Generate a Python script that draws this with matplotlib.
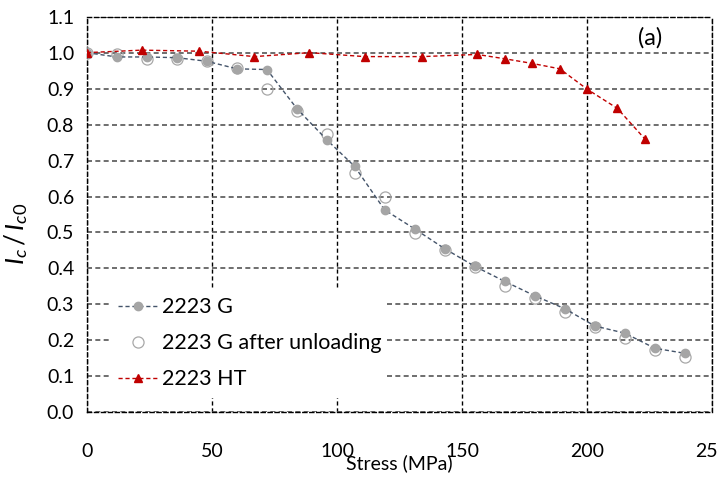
import matplotlib.pyplot as plt

plt.rcParams['font.family'] = ['Lato', 'DejaVu Sans']
plt.rcParams['mathtext.fontset'] = 'custom'
plt.rcParams['mathtext.it'] = 'Lato:italic'
plt.rcParams['mathtext.rm'] = 'Lato'

# 2223 G
g_stress = [0, 12, 24, 36, 48, 60, 72, 84, 96, 107, 119, 131, 143, 155, 167, 179, 191, 203, 215, 227, 239]
g_ic = [1.000, 0.988, 0.988, 0.986, 0.976, 0.955, 0.953, 0.844, 0.757, 0.684, 0.563,
        0.510, 0.455, 0.406, 0.364, 0.324, 0.288, 0.240, 0.220, 0.178, 0.164]
# 2223 G after unloading
u_ic = [1.000, 0.995, 0.983, 0.981, 0.978, 0.958, 0.900, 0.837, 0.774, 0.666, 0.600,
        0.499, 0.452, 0.405, 0.350, 0.317, 0.280, 0.238, 0.206, 0.172, 0.155]
# 2223 HT
ht_stress = [0, 22, 45, 67, 89, 111, 134, 156, 167, 178, 189, 200, 212, 223]
ht_ic = [1.000, 1.007, 1.004, 0.989, 1.000, 0.989, 0.989, 0.995, 0.983, 0.970, 0.955, 0.898, 0.845, 0.760]

x_ticks = [0, 50, 100, 150, 200, 250]
y_ticks = [0.0, 0.1, 0.2, 0.3, 0.4, 0.5, 0.6, 0.7, 0.8, 0.9, 1.0, 1.1]

fig = plt.figure(figsize=(7.18, 4.82), dpi=100)
ax = fig.add_axes([0.1208, 0.1446, 0.8715, 0.8208])

ax.plot(g_stress, g_ic, linestyle=(0, (3, 2)), color='#44546A', lw=1.0,
        marker='o', ms=6, mfc='#A5A5A5', mec='#A5A5A5', label='2223 G', zorder=4)
ax.plot(g_stress, u_ic, linestyle='none', marker='o', ms=8, mfc='none',
        mec='#A8A8A8', mew=0.9, label='2223 G after unloading', zorder=3)
ax.plot(ht_stress, ht_ic, linestyle=(0, (3, 2)), color='#C00000', lw=1.0,
        marker='^', ms=6, mfc='#C00000', mec='#C00000', label='2223 HT', zorder=5)

ax.set_xlim(0, 250)
ax.set_ylim(0, 1.1)
ax.set_xticks(x_ticks)
ax.set_yticks(y_ticks)
ax.set_yticklabels([f'{v:.1f}' for v in y_ticks])

ax.xaxis.grid(True, linestyle=(0, (3, 2)), color='black', lw=1.0)
ax.yaxis.grid(True, linestyle=(0, (3, 2)), color='#555555', lw=1.2)
ax.set_axisbelow(True)
for s in ax.spines.values():
    s.set_linestyle((0, (3, 2)))
    s.set_linewidth(1.0)
    s.set_color('black')

ax.tick_params(axis='both', length=0, labelsize=14)
ax.tick_params(axis='x', pad=22)
ax.tick_params(axis='y', pad=9)

ax.set_xlabel('Stress (MPa)', fontsize=14, labelpad=-4)
ax.set_ylabel(r'$I_c\,/\,I_{c0}$', fontsize=19)
ax.yaxis.set_label_coords(-0.09, 0.45)

ax.text(225, 1.04, '(a)', fontsize=17, ha='center', va='center')

leg = ax.legend(loc='lower left', bbox_to_anchor=(0.037, 0.036, 0.443, 0.281),
                mode='expand', fontsize=15.5, frameon=True, fancybox=False,
                edgecolor='none', framealpha=1, handlelength=1.8,
                handletextpad=0.2, borderaxespad=0, numpoints=1, labelspacing=0.75)
leg.set_zorder(10)

fig.savefig('out.png', dpi=100)
